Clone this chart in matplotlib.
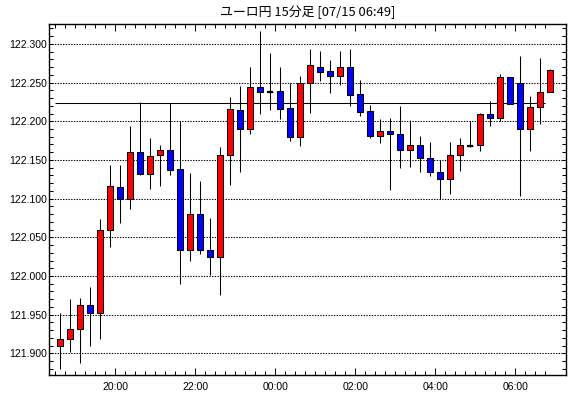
import numpy as np
import pandas as pd
import matplotlib
matplotlib.use("Agg")
import matplotlib.pyplot as plt
from matplotlib.ticker import FixedLocator, MultipleLocator, FormatStrFormatter

TITLE = "ユーロ円 15分足 [07/15 06:49]"

# 15-minute candles, 18:30 -> 06:45
times = pd.date_range("2000-07-14 18:30", periods=50, freq="15min")

opens = [121.909, 121.918, 121.931, 121.962, 121.952, 122.059, 122.115, 122.099, 122.160, 122.132,
         122.156, 122.163, 122.138, 122.033, 122.080, 122.033, 122.024, 122.157, 122.214, 122.190,
         122.244, 122.238, 122.239, 122.217, 122.180, 122.250, 122.270, 122.265, 122.258, 122.270,
         122.235, 122.213, 122.181, 122.187, 122.184, 122.163, 122.169, 122.153, 122.134, 122.125,
         122.157, 122.168, 122.169, 122.209, 122.204, 122.257, 122.250, 122.190, 122.218, 122.238]
highs = [121.952, 121.970, 121.972, 121.986, 122.074, 122.144, 122.144, 122.194, 122.225, 122.178,
         122.169, 122.224, 122.200, 122.133, 122.123, 122.075, 122.167, 122.231, 122.246, 122.270,
         122.317, 122.288, 122.270, 122.250, 122.259, 122.294, 122.291, 122.279, 122.291, 122.294,
         122.253, 122.221, 122.203, 122.204, 122.220, 122.202, 122.181, 122.173, 122.150, 122.173,
         122.178, 122.200, 122.211, 122.226, 122.261, 122.257, 122.285, 122.233, 122.282, 122.268]
lows = [121.880, 121.902, 121.888, 121.909, 121.918, 122.038, 122.068, 122.087, 122.131, 122.112,
        122.116, 122.131, 121.990, 122.019, 122.028, 122.001, 121.976, 122.117, 122.134, 122.184,
        122.209, 122.215, 122.203, 122.175, 122.168, 122.211, 122.252, 122.236, 122.247, 122.220,
        122.207, 122.179, 122.172, 122.111, 122.140, 122.141, 122.135, 122.129, 122.099, 122.106,
        122.136, 122.167, 122.162, 122.194, 122.200, 122.223, 122.103, 122.161, 122.196, 122.238]
closes = [121.918, 121.931, 121.963, 121.952, 122.059, 122.116, 122.099, 122.160, 122.132, 122.155,
          122.163, 122.137, 122.033, 122.080, 122.033, 122.024, 122.157, 122.216, 122.190, 122.244,
          122.238, 122.238, 122.216, 122.180, 122.250, 122.273, 122.264, 122.258, 122.270, 122.234,
          122.2125, 122.181, 122.187, 122.184, 122.163, 122.169, 122.153, 122.134, 122.125, 122.157,
          122.169, 122.168, 122.209, 122.204, 122.257, 122.223, 122.190, 122.218, 122.238, 122.266]

ref_level = 122.224
tick_labels = ["20:00", "22:00", "00:00", "02:00", "04:00", "06:00"]


def main():
    plt.rcParams["font.family"] = ["Liberation Sans", "DejaVu Sans"]

    fig = plt.figure(figsize=(5.70, 3.98), dpi=100)
    ax = fig.add_axes([49 / 570, 22.7 / 398, 516.7 / 570, 351 / 398])

    lw = 0.75  # about one pixel

    o = np.array(opens)
    h = np.array(highs)
    l = np.array(lows)
    c = np.array(closes)
    x = np.arange(len(o))

    # wicks
    ax.vlines(x, l, h, color="black", linewidth=lw, zorder=3)

    # bodies: red = up, blue = down
    colors = ["#ff0000" if cc > oo else "#0000ff" for oo, cc in zip(o, c)]
    bottom = np.minimum(o, c)
    height = np.abs(c - o)
    ax.bar(x, height, width=0.6, bottom=bottom, color=colors,
           edgecolor="black", linewidth=lw, zorder=4)

    # dojis as a flat dash
    doji = height < 1e-9
    ax.hlines(o[doji], x[doji] - 0.3, x[doji] + 0.3, color="black",
              linewidth=1.6, zorder=5)

    # reference level
    ax.hlines(ref_level, -0.5, 48.5, color="black", linewidth=lw, zorder=2)

    ax.set_xlim(-1.13, 50.54)
    ax.set_ylim(121.8716, 122.3254)

    # x ticks at candle boundaries, labelled every 2 hours
    major_pos = [i - 0.5 for i, t in enumerate(times) if t.strftime("%H:%M") in tick_labels]
    ax.xaxis.set_major_locator(FixedLocator(major_pos))
    ax.set_xticklabels(tick_labels)
    ax.xaxis.set_minor_locator(FixedLocator(np.arange(len(o)) - 0.5))

    ax.yaxis.set_major_locator(MultipleLocator(0.05))
    ax.yaxis.set_minor_locator(MultipleLocator(0.01))
    ax.yaxis.set_major_formatter(FormatStrFormatter("%.3f"))

    ax.tick_params(axis="both", which="both", direction="in", top=True, right=True,
                   colors="black", labelsize=7.5, width=lw)
    ax.tick_params(axis="x", which="major", length=5, pad=5)
    ax.tick_params(axis="x", which="minor", length=3)
    ax.tick_params(axis="y", which="both", length=3, pad=1.5)

    ax.grid(axis="y", which="major", linestyle=(0, (1.3, 1.3)), color="black", linewidth=lw)
    ax.set_axisbelow(True)
    for s in ax.spines.values():
        s.set_linewidth(1.0)

    ax.set_title(TITLE, fontsize=9.3, family=["Noto Sans CJK JP", "DejaVu Sans"], pad=6)

    fig.savefig("out.png", dpi=100)


if __name__ == "__main__":
    main()
